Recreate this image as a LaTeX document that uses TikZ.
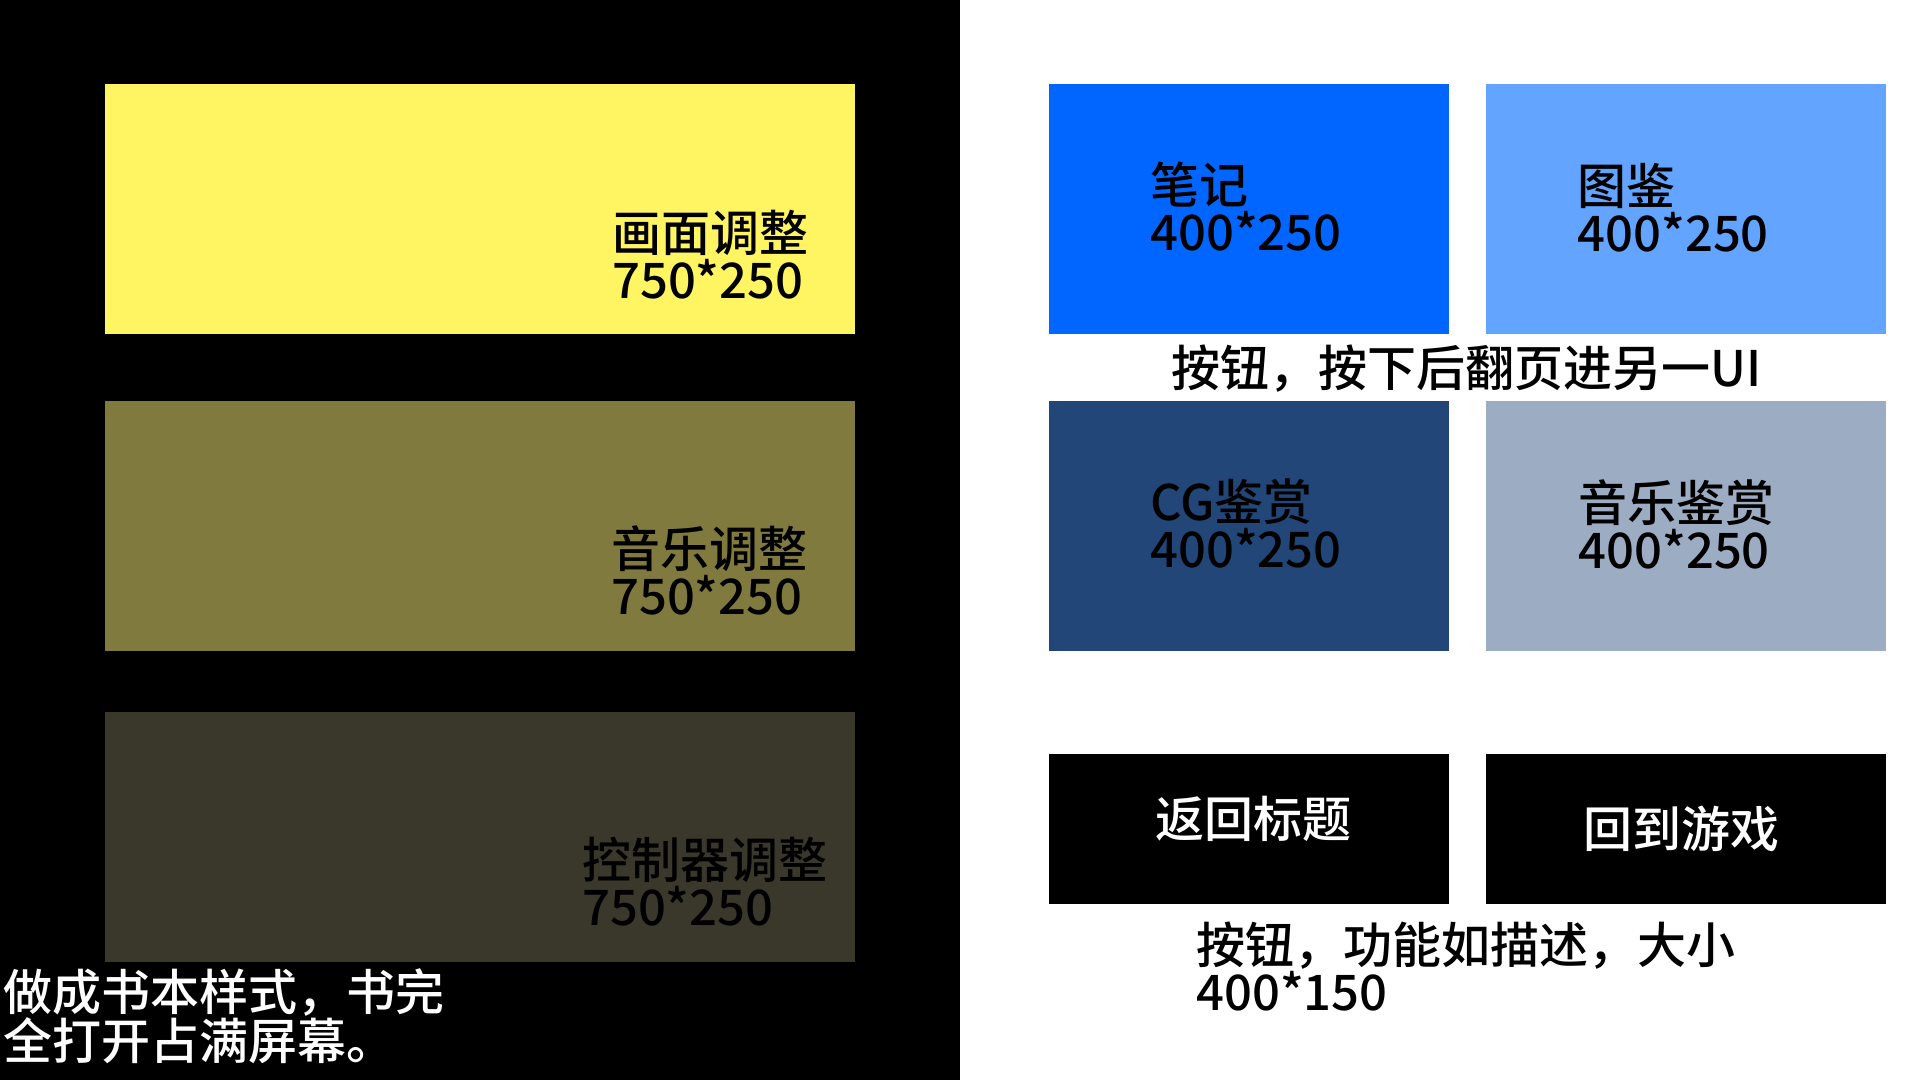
\documentclass[tikz,border=0pt]{standalone}
\usepackage{fontspec}
\usepackage{xcolor}
\usepackage{tikz}
\usetikzlibrary{positioning}
\newfontfamily\cjk{Noto Sans CJK SC}[UprightFont={* Medium}]
\definecolor{picyellow}{HTML}{FFF462}
\definecolor{musolive}{HTML}{807A3F}
\definecolor{ctrldark}{HTML}{3A382A}
\definecolor{noteblue}{HTML}{0066FF}
\definecolor{booklight}{HTML}{62A4FF}
\definecolor{cgnavy}{HTML}{224677}
\definecolor{bgmgrey}{HTML}{9CACC3}
\tikzstyle{widebox} = [rectangle, inner sep=0pt, minimum width=750pt, minimum height=250pt, anchor=north west]
\tikzstyle{smallbox} = [rectangle, inner sep=0pt, minimum width=400pt, minimum height=250pt, anchor=north west]
\tikzstyle{btnbox} = [rectangle, fill=black, inner sep=0pt, minimum width=400pt, minimum height=150pt, anchor=north west]
\tikzstyle{boxtext} = [inner sep=0pt, anchor=north west, align=left, font=\cjk\fontsize{49}{47}\selectfont]

\begin{document}
\begin{tikzpicture}[x=1pt, y=-1pt, node distance=66pt]
    % 背景
    \useasboundingbox (0,0) rectangle (1920,1080);
    \fill[white] (0,0) rectangle (1920,1080);
    \fill[black] (0,0) rectangle (960,1080);

    % 左侧：设置页
    \node [widebox, fill=picyellow] (picBox) at (105,84) {};
    \node [widebox, fill=musolive, below=of picBox] (musBox) {};
    \node [widebox, fill=ctrldark, below=61pt of musBox] (ctrlBox) {};
    \node [boxtext] (picText) at ([shift={(507,126)}]picBox.north west) {画面调整\\750*250};
    \node [boxtext] (musText) at ([shift={(506,125)}]musBox.north west) {音乐调整\\750*250};
    \node [boxtext] (ctrlText) at ([shift={(477,125)}]ctrlBox.north west) {控制器调整\\750*250};
    \node [boxtext, text=white] (bookNote) at ([shift={(-102,6)}]ctrlBox.south west) {做成书本样式，书完\\全打开占满屏幕。};

    % 右侧：按钮
    \node [smallbox, fill=noteblue] (noteBox) at (1049,84) {};
    \node [smallbox, fill=booklight, right=36pt of noteBox] (bookBox) {};
    \node [smallbox, fill=cgnavy, below=of noteBox] (cgBox) {};
    \node [smallbox, fill=bgmgrey, below=of bookBox] (bgmBox) {};
    \node [btnbox, below=103pt of cgBox] (titleBtn) {};
    \node [btnbox, below=103pt of bgmBox] (gameBtn) {};
    \node [boxtext] (noteText) at ([shift={(101,78)}]noteBox.north west) {笔记\\400*250};
    \node [boxtext] (bookText) at ([shift={(92,79)}]bookBox.north west) {图鉴\\400*250};
    \node [boxtext] (cgText) at ([shift={(101,78)}]cgBox.north west) {CG鉴赏\\400*250};
    \node [boxtext] (bgmText) at ([shift={(93,79)}]bgmBox.north west) {音乐鉴赏\\400*250};
    \node [boxtext, text=white] (titleText) at ([shift={(106,42)}]titleBtn.north west) {返回标题};
    \node [boxtext, text=white] (gameText) at ([shift={(98,52)}]gameBtn.north west) {回到游戏};
    \node [boxtext] (pageNote) at ([shift={(122,10)}]noteBox.south west) {按钮，按下后翻页进另一UI};
    \node [boxtext] (btnNote) at ([shift={(147,17)}]titleBtn.south west) {按钮，功能如描述，大小\\400*150};
\end{tikzpicture}
\end{document}
